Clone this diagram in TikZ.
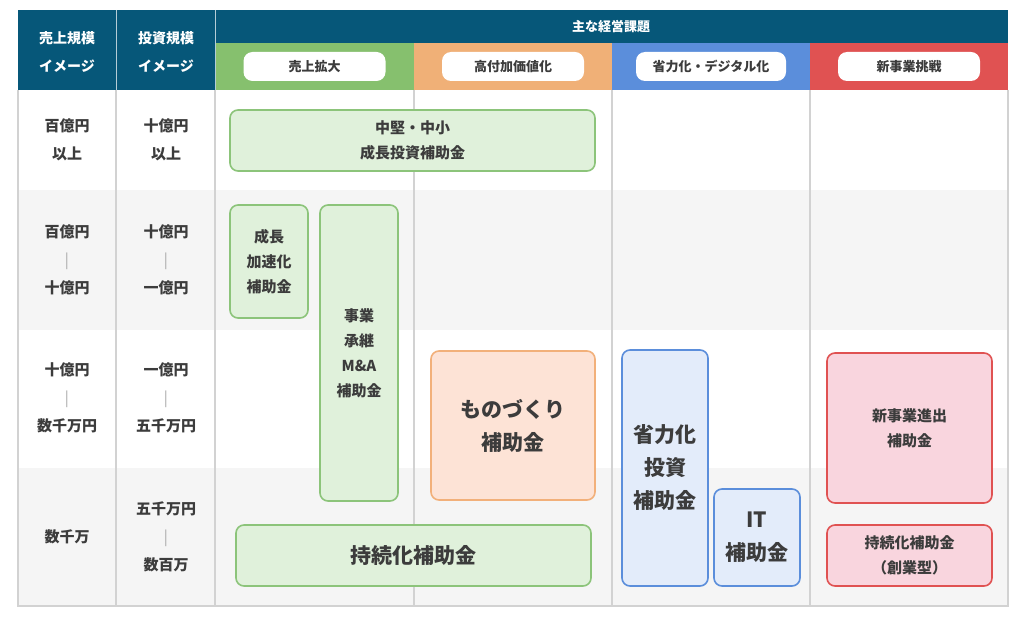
\documentclass[tikz,border=0pt]{standalone}
\usepackage{fontspec}
\setmainfont{Noto Sans CJK JP}
\usepackage{tikz}
\definecolor{hdrBlue}{RGB}{6,87,121}
\definecolor{gridGray}{RGB}{210,210,210}
\definecolor{rowGray}{RGB}{245,245,245}
\definecolor{txtGray}{RGB}{60,60,60}
\definecolor{grnHead}{RGB}{134,192,110}
\definecolor{orgHead}{RGB}{240,176,119}
\definecolor{bluHead}{RGB}{91,142,219}
\definecolor{redHead}{RGB}{224,82,82}
\definecolor{grnFill}{RGB}{224,241,219}
\definecolor{grnLine}{RGB}{140,196,122}
\definecolor{orgFill}{RGB}{253,227,214}
\definecolor{orgLine}{RGB}{242,176,122}
\definecolor{bluFill}{RGB}{227,236,250}
\definecolor{bluLine}{RGB}{91,142,219}
\definecolor{redFill}{RGB}{249,213,222}
\definecolor{redLine}{RGB}{224,82,82}

\begin{document}
\begin{tikzpicture}[x=1pt,y=-1pt,
  hdrtext/.style={text=white,font=\bfseries\fontsize{14}{28}\selectfont,align=center},
  pill/.style={fill=white,rounded corners=9pt,minimum width=142pt,minimum height=29pt,inner sep=0pt,text=txtGray,font=\bfseries\fontsize{13}{16}\selectfont},
  rowlbl/.style={text=txtGray,font=\bfseries\fontsize{15}{28}\selectfont,align=center},
  subbox/.style={rounded corners=8pt,line width=1.6pt,inner sep=0pt,text=txtGray,align=center,font=\bfseries\fontsize{15}{25}\selectfont},
  bigtext/.style={font=\bfseries\fontsize{21}{33}\selectfont},
  gbox/.style={subbox,fill=grnFill,draw=grnLine},
  obox/.style={subbox,fill=orgFill,draw=orgLine},
  bbox/.style={subbox,fill=bluFill,draw=bluLine},
  rbox/.style={subbox,fill=redFill,draw=redLine}]
\useasboundingbox (0,0) rectangle (1024,620);
% row backgrounds
\fill[white] (18,90) rectangle (1008,190);
\fill[rowGray] (18,190) rectangle (1008,330);
\fill[white] (18,330) rectangle (1008,468);
\fill[rowGray] (18,468) rectangle (1008,606);
% grid
\draw[gridGray,line width=1.2pt] (18,90) -- (18,606) -- (1008,606) -- (1008,90);
\foreach \x in {116,215,414,612,810}
  \draw[gridGray,line width=1.2pt] (\x,90) -- (\x,606);
% header
\fill[hdrBlue] (18,10) rectangle (1008,43);
\fill[hdrBlue] (18,43) rectangle (215,90);
\fill[grnHead] (215,43) rectangle (414,90);
\fill[orgHead] (414,43) rectangle (612,90);
\fill[bluHead] (612,43) rectangle (810,90);
\fill[redHead] (810,43) rectangle (1008,90);
\draw[white!70!hdrBlue,line width=1pt] (116,10) -- (116,90) (215,10) -- (215,90);
\node[hdrtext] (h1) at (67,52) {売上規模\\イメージ};
\node[hdrtext] (h2) at (166,52) {投資規模\\イメージ};
\node[hdrtext,font=\bfseries\fontsize{13}{16}\selectfont] (hmain) at (611,27) {主な経営課題};
\node[pill] (p1) at (314.5,66.5) {売上拡大};
\node[pill] (p2) at (513,66.5) {高付加価値化};
\node[pill,minimum width=150pt] (p3) at (711,66.5) {省力化・デジタル化};
\node[pill] (p4) at (909,66.5) {新事業挑戦};
% row labels
\node[rowlbl] (s1) at (67,140) {百億円\\以上};
\node[rowlbl] (i1) at (166,140) {十億円\\以上};
\node[rowlbl] (s2) at (67,260) {百億円\\{\color{gray!70}\mdseries|}\\十億円};
\node[rowlbl] (i2) at (166,260) {十億円\\{\color{gray!70}\mdseries|}\\一億円};
\node[rowlbl] (s3) at (67,398) {十億円\\{\color{gray!70}\mdseries|}\\数千万円};
\node[rowlbl] (i3) at (166,398) {一億円\\{\color{gray!70}\mdseries|}\\五千万円};
\node[rowlbl] (s4) at (67,537) {数千万};
\node[rowlbl] (i4) at (166,537) {五千万円\\{\color{gray!70}\mdseries|}\\数百万};
% subsidies
\node[gbox,minimum width=365pt,minimum height=61pt] (seicho) at (412.5,140.5) {中堅・中小\\成長投資補助金};
\node[gbox,minimum width=78pt,minimum height=113pt] (kasoku) at (269,261.5) {成長\\加速化\\補助金};
\node[gbox,minimum width=78pt,minimum height=296pt] (shokei) at (359,353) {事業\\承継\\M\&A\\補助金};
\node[gbox,bigtext,minimum width=355pt,minimum height=61pt] (jizoku) at (413.5,555.5) {持続化補助金};
\node[obox,bigtext,minimum width=164pt,minimum height=149pt] (mono) at (513,425.5) {ものづくり\\補助金};
\node[bbox,bigtext,minimum width=86pt,minimum height=236pt] (shoryoku) at (665,468) {省力化\\投資\\補助金};
\node[bbox,bigtext,minimum width=86pt,minimum height=97pt] (it) at (757,537.5) {IT\\補助金};
\node[rbox,minimum width=165pt,minimum height=150pt] (shinjigyo) at (909.5,428) {新事業進出\\補助金};
\node[rbox,minimum width=165pt,minimum height=61pt] (sogyo) at (909.5,555.5) {持続化補助金\\（創業型）};
\end{tikzpicture}
\end{document}
